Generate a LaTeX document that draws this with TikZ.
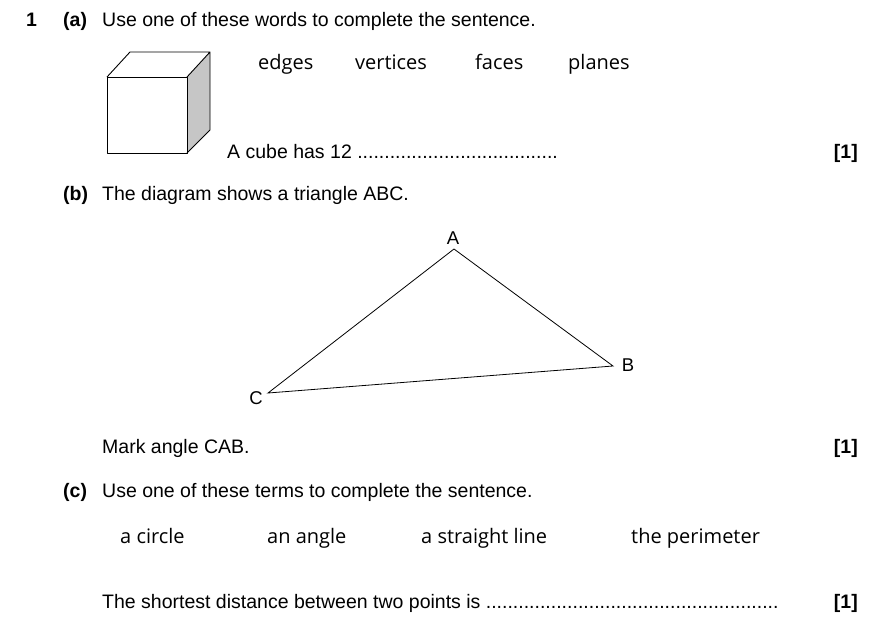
\documentclass[tikz,border=0pt]{standalone}
\usepackage{fontspec}
\setmainfont{Liberation Sans}
\newfontfamily\wordfont{Open Sans}
\begin{document}
\begin{tikzpicture}[x=1pt,y=-1pt,
  txt/.style={anchor=base west,font=\fontsize{19.5}{21}\selectfont,inner sep=0},
  bld/.style={txt,font=\fontsize{19.5}{21}\selectfont\bfseries},
  word/.style={anchor=base west,font=\fontsize{20}{22}\wordfont,inner sep=0},
  mk/.style={anchor=base east,font=\fontsize{19.5}{21}\selectfont\bfseries,inner sep=0},
  lab/.style={font=\fontsize{18.5}{20}\selectfont,inner sep=0}]
\useasboundingbox[fill=white] (0,0) rectangle (888,632);
\node[bld] (n1) at (26,26) {1};
\node[bld] (pa) at (63,26) {(a)};
\node[txt] (ta) at (102,26) {Use one of these words to complete the sentence.};
\node[word] (w1) at (258,69) {edges};
\node[word] (w2) at (355,69) {vertices};
\node[word] (w3) at (475,69) {faces};
\node[word] (w4) at (568,69) {planes};
% cube
\fill[gray!45] (187,77) -- (210,52) -- (210,130) -- (187,153) -- cycle;
\draw[line width=0.9pt,line join=round] (107,77) rectangle (187,153);
\draw[line width=0.9pt,line join=round] (107,77) -- (130,52) -- (210,52) -- (187,77) (210,52) -- (210,130) -- (187,153);
\node[txt] (s1) at (227,158) {A cube has 12 .....................................};
\node[mk] (m1) at (858,158) {[1]};
\node[bld] (pb) at (63,200) {(b)};
\node[txt] (tb) at (102,200) {The diagram shows a triangle ABC.};
\coordinate (A) at (454,249);
\coordinate (B) at (613,366);
\coordinate (C) at (268,393);
\draw[line width=0.8pt] (A) -- (B) -- (C) -- cycle;
\node[lab] (la) at (453,238) {A};
\node[lab] (lb) at (628,365) {B};
\node[lab] (lc) at (256,398) {C};
\node[txt] (s2) at (102,453) {Mark angle CAB.};
\node[mk] (m2) at (858,453) {[1]};
\node[bld] (pc) at (63,497) {(c)};
\node[txt] (tc) at (102,497) {Use one of these terms to complete the sentence.};
\node[word] (t1) at (120,543) {a circle};
\node[word] (t2) at (267,543) {an angle};
\node[word] (t3) at (421,543) {a straight line};
\node[word] (t4) at (631,543) {the perimeter};
\node[txt] (s3) at (102,608) {The shortest distance between two points is ......................................................};
\node[mk] (m3) at (858,608) {[1]};
\end{tikzpicture}
\end{document}
